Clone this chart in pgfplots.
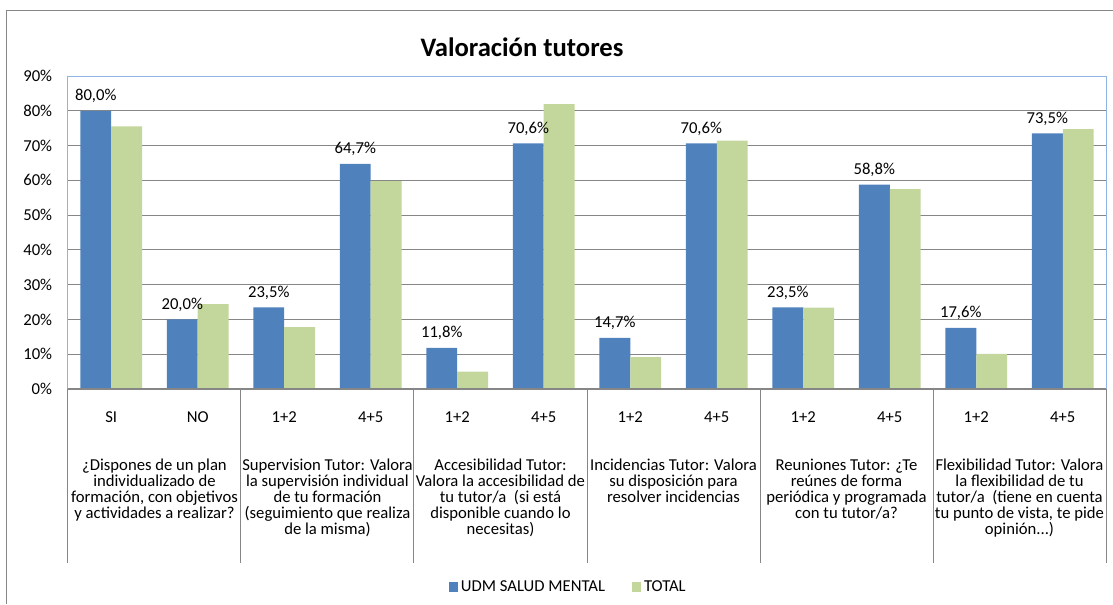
\documentclass[border=0pt]{standalone}
\usepackage{pgfplots}
\pgfplotsset{compat=1.18}
\usepackage{fontspec}
\setmainfont{Carlito}
\definecolor{barblue}{RGB}{79,129,189}
\definecolor{bargreen}{RGB}{195,214,155}
\definecolor{gridgray}{RGB}{134,134,134}
\definecolor{borderblue}{RGB}{142,180,227}
\begin{document}
\begin{tikzpicture}
\path[use as bounding box] (0pt,0pt) rectangle (667.8pt,362.4pt);
\draw[gridgray, line width=0.6pt] (3.6pt,0pt) -- (3.6pt,355.8pt) -- (667.8pt,355.8pt);
\node[font=\fontsize{16}{19}\selectfont\bfseries] at (313.2pt,334.2pt) {Valoración tutores};
\begin{axis}[
  at={(40.8pt,129pt)}, anchor=south west, scale only axis,
  width=622.8pt, height=187.8pt,
  ybar=0pt, bar width=0.358,
  xmin=-0.5, xmax=11.5, ymin=0, ymax=90,
  enlarge x limits=false,
  xtick={0,...,11},
  xticklabels={SI,NO,1+2,4+5,1+2,4+5,1+2,4+5,1+2,4+5,1+2,4+5},
  ytick={0,10,20,30,40,50,60,70,80,90},
  yticklabels={0\%,10\%,20\%,30\%,40\%,50\%,60\%,70\%,80\%,90\%},
  major tick length=0pt,
  ymajorgrids, grid style={gridgray, line width=0.6pt},
  axis line style={borderblue, line width=0.6pt},
  tick label style={font=\fontsize{10}{12}\selectfont, black},
  yticklabel style={xshift=-6pt},
  xticklabel style={yshift=-10pt},
  legend style={at={(rel axis cs:0.4825,-0.6326)}, anchor=center, draw=none,
    font=\fontsize{10}{12}\selectfont,
    /tikz/every even column/.append style={column sep=14pt}},
  legend columns=2,
  clip=false,
]
\addplot[fill=barblue, draw=none,
  legend image code/.code={\fill[barblue] (0pt,-2.9pt) rectangle (5.4pt,2.9pt);},
  nodes near coords={\pgfmathprintnumber[fixed,fixed zerofill,precision=1,use comma,assume math mode=true]{\pgfplotspointmeta}\%},
  nodes near coords style={font=\fontsize{10}{12}\selectfont, black, yshift=1.2pt}]
  coordinates {(0,80.0) (1,20.0) (2,23.5) (3,64.7) (4,11.8) (5,70.6) (6,14.7) (7,70.6) (8,23.5) (9,58.8) (10,17.6) (11,73.5)};
\addlegendentry{UDM SALUD MENTAL}
\addplot[fill=bargreen, draw=none,
  legend image code/.code={\fill[bargreen] (0pt,-2.9pt) rectangle (5.4pt,2.9pt);}]
  coordinates {(0,75.5) (1,24.4) (2,17.8) (3,59.8) (4,5.0) (5,81.9) (6,9.2) (7,71.4) (8,23.4) (9,57.5) (10,10.1) (11,74.7)};
\addlegendentry{TOTAL}
\draw[gridgray, line width=1pt] (axis cs:-0.5,0) -- (axis cs:11.5,0);
\pgfplotsinvokeforeach{-0.5,1.5,3.5,5.5,7.5,9.5,11.5}{
  \draw[gridgray, line width=0.6pt] (axis cs:#1,0) -- ++(0pt,-104.4pt);
}
\node[anchor=north, align=center, inner sep=0pt, font=\fontsize{10}{9.6}\selectfont, yshift=-42pt] at (axis cs:0.5,0)
  {¿Dispones de un plan\\individualizado de\\formación, con objetivos\\y actividades a realizar?};
\node[anchor=north, align=center, inner sep=0pt, font=\fontsize{10}{9.6}\selectfont, yshift=-42pt] at (axis cs:2.5,0)
  {Supervision Tutor: Valora\\la supervisión individual\\de tu formación\\(seguimiento que realiza\\de la misma)};
\node[anchor=north, align=center, inner sep=0pt, font=\fontsize{10}{9.6}\selectfont, yshift=-42pt] at (axis cs:4.5,0)
  {Accesibilidad Tutor:\\Valora la accesibilidad de\\tu tutor/a\ \ (si está\\disponible cuando lo\\necesitas)};
\node[anchor=north, align=center, inner sep=0pt, font=\fontsize{10}{9.6}\selectfont, yshift=-42pt] at (axis cs:6.5,0)
  {Incidencias Tutor: Valora\\su disposición para\\resolver incidencias};
\node[anchor=north, align=center, inner sep=0pt, font=\fontsize{10}{9.6}\selectfont, yshift=-42pt] at (axis cs:8.5,0)
  {Reuniones Tutor: ¿Te\\reúnes de forma\\periódica y programada\\con tu tutor/a?};
\node[anchor=north, align=center, inner sep=0pt, font=\fontsize{10}{9.6}\selectfont, yshift=-42pt] at (axis cs:10.5,0)
  {Flexibilidad Tutor: Valora\\la flexibilidad de tu\\tutor/a\ \ (tiene en cuenta\\tu punto de vista, te pide\\opinión...)};
\end{axis}
\end{tikzpicture}
\end{document}
